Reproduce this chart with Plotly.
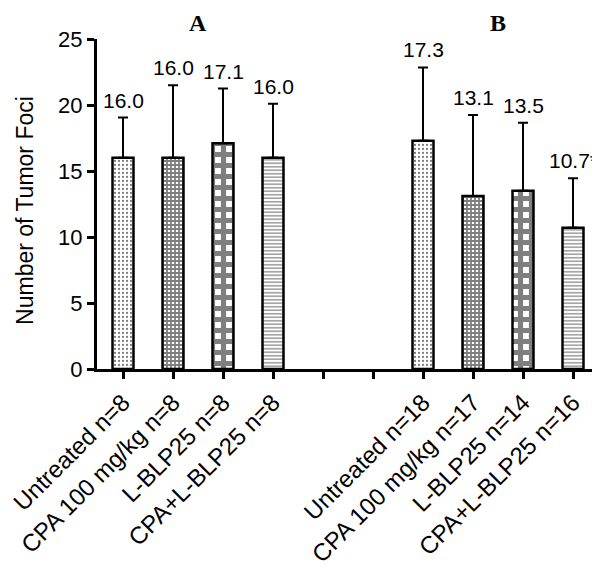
import plotly.graph_objects as go

# ---- data ----
groups = ["A", "B"]
labels_a = ["Untreated n=8", "CPA 100 mg/kg n=8", "L-BLP25 n=8", "CPA+L-BLP25 n=8"]
labels_b = ["Untreated n=18", "CPA 100 mg/kg n=17", "L-BLP25 n=14", "CPA+L-BLP25 n=16"]
means_a = [16.0, 16.0, 17.1, 16.0]
means_b = [17.3, 13.1, 13.5, 10.7]
upper_a = [19.05, 21.5, 21.25, 20.1]
upper_b = [22.85, 19.25, 18.65, 14.45]
text_a = ["16.0", "16.0", "17.1", "16.0"]
text_b = ["17.3", "13.1", "13.5", "10.7*"]
y_ticks = [0, 5, 10, 15, 20, 25]
y_title = "Number of Tumor Foci"

pos_a = [0, 1, 2, 3]
pos_b = [6, 7, 8, 9]
gap_pos = [4, 5]

patterns = [
    dict(shape=".", size=4, solidity=0.25, fgcolor="black", bgcolor="white"),
    dict(shape="+", size=4, solidity=0.7, fgcolor="black", bgcolor="white"),
    dict(shape="+", size=11, solidity=0.72, fgcolor="black", bgcolor="white"),
    dict(shape="-", size=3.5, solidity=0.35, fgcolor="black", bgcolor="white"),
]

FONT = "Liberation Sans, Arial, Helvetica"

fig = go.Figure()

for i in range(4):
    xs = [pos_a[i], pos_b[i]]
    ys = [means_a[i], means_b[i]]
    errs = [upper_a[i] - means_a[i], upper_b[i] - means_b[i]]
    fig.add_trace(go.Bar(
        x=xs, y=ys, width=0.42,
        marker=dict(color="white", line=dict(color="black", width=2.5), pattern=patterns[i]),
        error_y=dict(type="data", array=errs, arrayminus=[0, 0], symmetric=False,
                     color="black", thickness=2, width=5),
        showlegend=False,
    ))

for xs, tops, txts in [(pos_a, upper_a, text_a), (pos_b, upper_b, text_b)]:
    for x, t, s in zip(xs, tops, txts):
        fig.add_annotation(x=x, y=t, text=s, showarrow=False, yanchor="bottom", yshift=4,
                           xanchor="center", font=dict(family=FONT, size=21, color="black"))

group_centers = [sum(pos_a) / 4, sum(pos_b) / 4]
for g, c in zip(groups, group_centers):
    fig.add_annotation(x=c, y=1.0, yref="paper", yshift=16, text="<b>" + g + "</b>", showarrow=False,
                       yanchor="middle", font=dict(family="Liberation Serif, Times New Roman", size=24, color="black"))

fig.add_annotation(x=0, xref="paper", xshift=-72, y=0.479, yref="paper", text=y_title, textangle=-90,
                   showarrow=False, xanchor="center", yanchor="middle",
                   font=dict(family=FONT, size=23, color="black"))

tickvals = pos_a + gap_pos + pos_b
ticktext = labels_a + ["", ""] + labels_b

fig.update_layout(
    width=592, height=564,
    margin=dict(l=89, r=2, t=31, b=203),
    plot_bgcolor="white", paper_bgcolor="white",
    bargap=0.5,
    font=dict(family=FONT, color="black"),
    xaxis=dict(range=[-0.52, 9.5], tickvals=tickvals, ticktext=ticktext, tickangle=-45,
               showline=True, linecolor="black", linewidth=3, ticks="outside", ticklen=7, tickwidth=2.5,
               tickcolor="black", showgrid=False, zeroline=False, automargin=False,
               ticklabeloverflow="allow",
               tickfont=dict(family=FONT, size=24, color="black")),
    yaxis=dict(range=[0, 25], tickvals=y_ticks, showline=True, linecolor="black", linewidth=3,
               ticks="outside", ticklen=7, tickwidth=2.5, tickcolor="black", showgrid=False, zeroline=False,
               automargin=False,
               tickfont=dict(family=FONT, size=22, color="black")),
)

fig.write_html("out.html")
